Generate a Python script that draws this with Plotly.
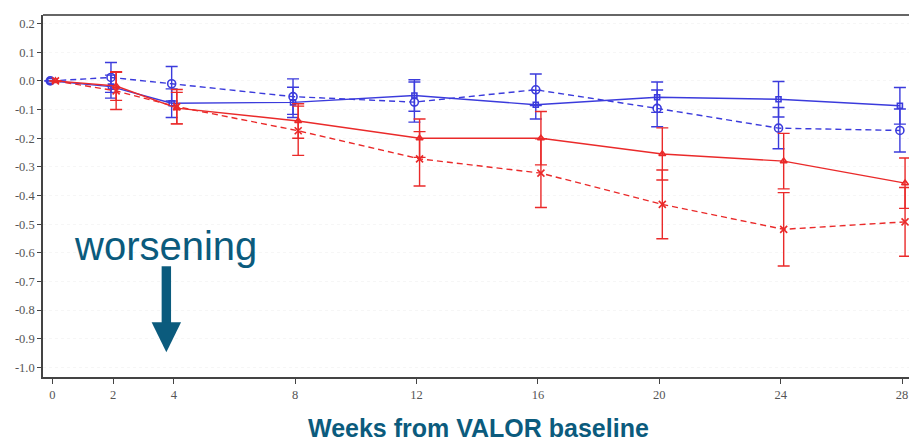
import plotly.graph_objects as go

weeks = [0, 2, 4, 8, 12, 16, 20, 24, 28]

blue_solid = [0, -0.020, -0.078, -0.075, -0.051, -0.083, -0.057, -0.064, -0.087]
blue_solid_err = [0, 0.040, 0.050, 0.053, 0.055, 0.050, 0.053, 0.062, 0.064]

blue_dash = [0, 0.012, -0.010, -0.055, -0.074, -0.031, -0.096, -0.165, -0.173]
blue_dash_err = [0, 0.052, 0.060, 0.062, 0.070, 0.055, 0.064, 0.072, 0.075]

red_solid = [0, -0.018, -0.095, -0.140, -0.200, -0.200, -0.255, -0.280, -0.357]
red_solid_err = [0, 0.050, 0.055, 0.060, 0.067, 0.093, 0.091, 0.097, 0.088]

red_dash = [0, -0.035, -0.090, -0.174, -0.272, -0.322, -0.431, -0.518, -0.492]
red_dash_err = [0, 0.065, 0.060, 0.086, 0.095, 0.120, 0.120, 0.128, 0.120]

y_tickvals = [0.2, 0.1, 0.0, -0.1, -0.2, -0.3, -0.4, -0.5, -0.6, -0.7, -0.8, -0.9, -1.0]
y_ticktext = ["0.2", "0.1", "0.0", "-0.1", "-0.2", "-0.3", "-0.4", "-0.5", "-0.6",
              "-0.7", "-0.8", "-0.9", "-1.0"]
x_tickvals = [0, 2, 4, 8, 12, 16, 20, 24, 28]

BLUE = "#3b3bdc"
RED = "#ea2a2a"
TEAL = "#0b5b7d"

blue_off = -0.07
red_off = 0.1

fig = go.Figure()

def add(series, err, color, dash, symbol, size, off):
    fig.add_trace(go.Scatter(
        x=[w + off for w in weeks], y=series,
        mode="lines+markers",
        line=dict(color=color, width=1.4, dash=dash),
        marker=dict(symbol=symbol, size=size, color=color,
                    line=dict(color=color, width=1.6)),
        error_y=dict(type="data", array=err, visible=True, color=color,
                     thickness=1.4, width=6),
        showlegend=False,
        cliponaxis=False,
    ))

add(blue_solid, blue_solid_err, BLUE, "solid", "square-open", 5, blue_off)
add(blue_dash, blue_dash_err, BLUE, "6px,4px", "circle-open", 8, blue_off)
add(red_solid, red_solid_err, RED, "solid", "triangle-up-open", 6, red_off)
add(red_dash, red_dash_err, RED, "6px,4px", "x-thin-open", 7, red_off)

tickfont = dict(family="Liberation Serif, DejaVu Serif, serif", size=12.5, color="#555555")

fig.update_xaxes(
    range=[-0.31, 28.23], showgrid=False, zeroline=False,
    showline=True, linecolor="#444444", linewidth=1.5,
    ticks="outside", ticklen=5, tickwidth=1.3, tickcolor="#444444",
    tickvals=x_tickvals, ticktext=[str(v) for v in x_tickvals],
    tickfont=tickfont,
)
fig.update_yaxes(
    range=[-1.0335, 0.23], showgrid=True, gridcolor="#f6f6f6", gridwidth=1,
    griddash="dot", zeroline=False,
    showline=True, linecolor="#444444", linewidth=1.5,
    ticks="outside", ticklen=4, tickwidth=1.3, tickcolor="#444444",
    tickvals=y_tickvals, ticktext=y_ticktext,
    tickfont=tickfont,
)

# top border
fig.add_shape(type="line", xref="paper", yref="paper", x0=0, x1=1, y0=1, y1=1,
              line=dict(color="#666666", width=1.8))

# worsening arrow (shaft + head)
fig.add_shape(type="rect", xref="x", yref="y",
              x0=3.6, x1=3.91, y0=-0.845, y1=-0.647,
              fillcolor=TEAL, line=dict(width=0))
fig.add_shape(type="path", xref="x", yref="y",
              path="M 3.27 -0.842 L 4.24 -0.842 L 3.755 -0.947 Z",
              fillcolor=TEAL, line=dict(width=0))

fig.add_annotation(text="worsening", xref="x", yref="y", x=3.72, y=-0.575,
                   showarrow=False, xanchor="center", yanchor="middle",
                   font=dict(family="Liberation Sans, Arial, sans-serif", size=40, color=TEAL))

fig.add_annotation(text="<b>Weeks from VALOR baseline</b>", xref="paper", yref="paper",
                   x=(478 - 43) / 866, y=-0.14, showarrow=False,
                   xanchor="center", yanchor="middle",
                   font=dict(family="Liberation Sans, Arial, sans-serif", size=25, color=TEAL))

fig.update_layout(
    width=909, height=441,
    margin=dict(l=43, r=0, t=15, b=64),
    paper_bgcolor="white", plot_bgcolor="white",
)

fig.write_html("out.html", config={"displayModeBar": False})
